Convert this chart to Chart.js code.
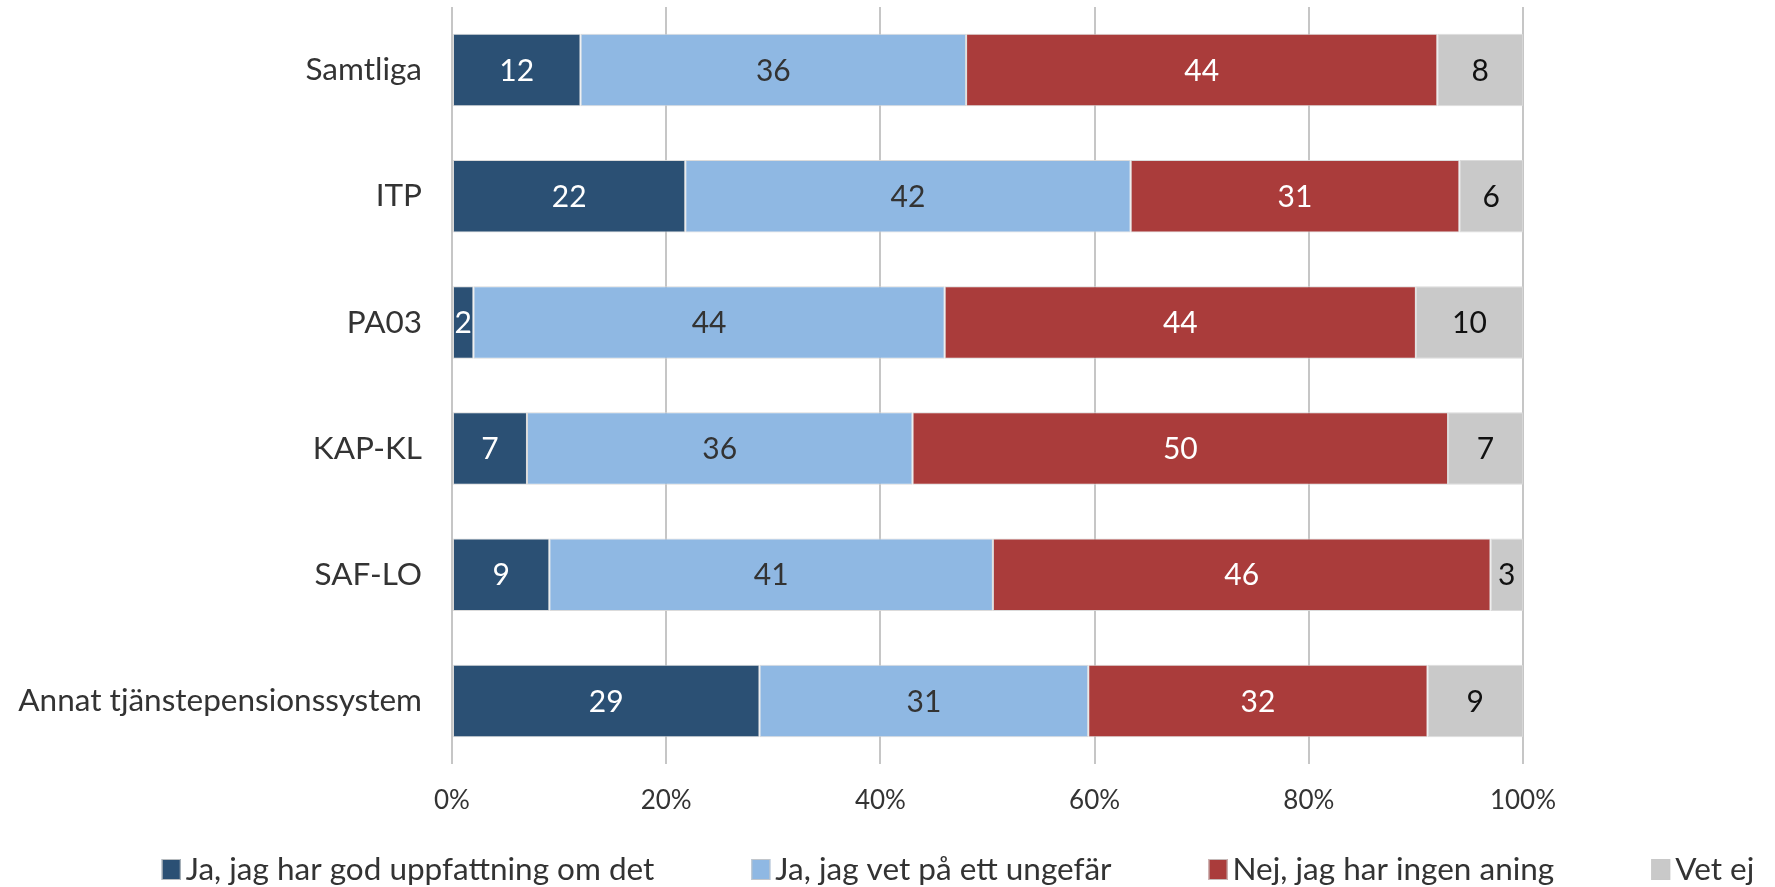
<!DOCTYPE html>
<html lang="sv">

<head>
    <meta charset="UTF-8">
    <title>Tjänstepension</title>
    <script src="https://cdn.jsdelivr.net/npm/chart.js@4/dist/chart.umd.min.js"></script>
    <style>
        body { margin: 0; background: #fff; }
    </style>
</head>

<body>
    <canvas height="887" width="1775" id="chart"></canvas>
</body>
<script>
    var categories = ['Samtliga', 'ITP', 'PA03', 'KAP-KL', 'SAF-LO', 'Annat tjänstepensionssystem'];
    var seriesNames = ['Ja, jag har god uppfattning om det', 'Ja, jag vet på ett ungefär', 'Nej, jag har ingen aning', 'Vet ej'];
    var jaGod = [12, 22, 2, 7, 9, 29];
    var jaUngefar = [36, 42, 44, 36, 41, 31];
    var nej = [44, 31, 44, 50, 46, 32];
    var vetEj = [8, 6, 10, 7, 3, 9];
    var xTicks = [0, 20, 40, 60, 80, 100];

    var colors = ['#2B5074', '#8FB8E3', '#AA3C3B', '#C9C9C9'];
    var labelColors = ['#ffffff', '#333333', '#ffffff', '#111111'];
    var FONT = 'Lato, "Open Sans", sans-serif';

    // 100% stacked: scale each row to its own total
    var raw = [jaGod, jaUngefar, nej, vetEj];
    var totals = categories.map(function (c, i) {
        return raw.reduce(function (s, arr) { return s + arr[i]; }, 0);
    });
    var datasets = raw.map(function (arr, k) {
        return {
            label: seriesNames[k],
            data: arr.map(function (v, i) { return v / totals[i] * 100; }),
            raw: arr,
            backgroundColor: colors[k],
            borderColor: 'rgba(215,215,215,0.9)',
            borderWidth: 1,
            borderSkipped: false,
            barPercentage: 0.574,
            categoryPercentage: 1.0
        };
    });

    // write the value in the middle of each segment
    var valueLabels = {
        id: 'valueLabels',
        afterDatasetsDraw: function (chart) {
            var ctx = chart.ctx;
            ctx.save();
            ctx.font = '30px ' + FONT;
            ctx.textAlign = 'center';
            ctx.textBaseline = 'middle';
            chart.data.datasets.forEach(function (ds, k) {
                chart.getDatasetMeta(k).data.forEach(function (bar, i) {
                    ctx.fillStyle = labelColors[k];
                    ctx.fillText(ds.raw[i], (bar.x + bar.base) / 2, bar.y + 1);
                });
            });
            ctx.restore();
        }
    };

    // excel-like legend row: small box, tight text, even gaps between items
    var rowLegend = {
        id: 'rowLegend',
        afterDraw: function (chart) {
            var ctx = chart.ctx;
            var box = 19, boxGap = 5, itemGap = 97, y = 869;
            ctx.save();
            ctx.font = '31.5px ' + FONT;
            ctx.textBaseline = 'middle';
            var items = chart.data.datasets.map(function (ds) {
                return { text: ds.label, color: ds.backgroundColor, w: ctx.measureText(ds.label).width };
            });
            var total = items.reduce(function (s, it) { return s + box + boxGap + it.w; }, 0) + itemGap * (items.length - 1);
            var x = 958 - total / 2;
            items.forEach(function (it) {
                ctx.fillStyle = it.color;
                ctx.fillRect(x, y - 10, box, 21);
                ctx.strokeStyle = 'rgba(200,200,200,0.9)';
                ctx.lineWidth = 1;
                ctx.strokeRect(x + 0.5, y - 9.5, box - 1, 20);
                ctx.fillStyle = '#333333';
                ctx.fillText(it.text, x + box + boxGap, y + 1);
                x += box + boxGap + it.w + itemGap;
            });
            ctx.restore();
        }
    };

    var context = document.getElementById('chart');
    var config = {
        type: 'bar',
        data: {
            labels: categories,
            datasets: datasets
        },
        options: {
            indexAxis: 'y',
            responsive: false,
            animation: false,
            layout: { padding: { top: 7, right: 252, bottom: 70, left: 0 } },
            scales: {
                x: {
                    stacked: true,
                    min: 0,
                    max: 100,
                    afterBuildTicks: function (scale) {
                        scale.ticks = xTicks.map(function (v) { return { value: v }; });
                    },
                    afterFit: function (scale) { scale.height = 53; },
                    grid: { color: '#C6C6C6', lineWidth: 2, drawTicks: false },
                    border: { display: false },
                    ticks: {
                        padding: 21,
                        color: '#333333',
                        font: { family: FONT, size: 26 },
                        callback: function (v) { return v + '%'; }
                    }
                },
                y: {
                    stacked: true,
                    afterFit: function (scale) {
                        scale.width = 452;
                        scale.paddingTop = 0;
                        scale.paddingBottom = 0;
                    },
                    grid: { display: false, drawTicks: false },
                    border: { display: false },
                    ticks: {
                        padding: 30,
                        color: '#333333',
                        font: { family: FONT, size: 31.5 }
                    }
                }
            },
            plugins: {
                legend: { display: false },
                tooltip: { enabled: false }
            }
        },
        plugins: [valueLabels, rowLegend]
    };
    var chart = new Chart(context, config);
</script>

</html>
